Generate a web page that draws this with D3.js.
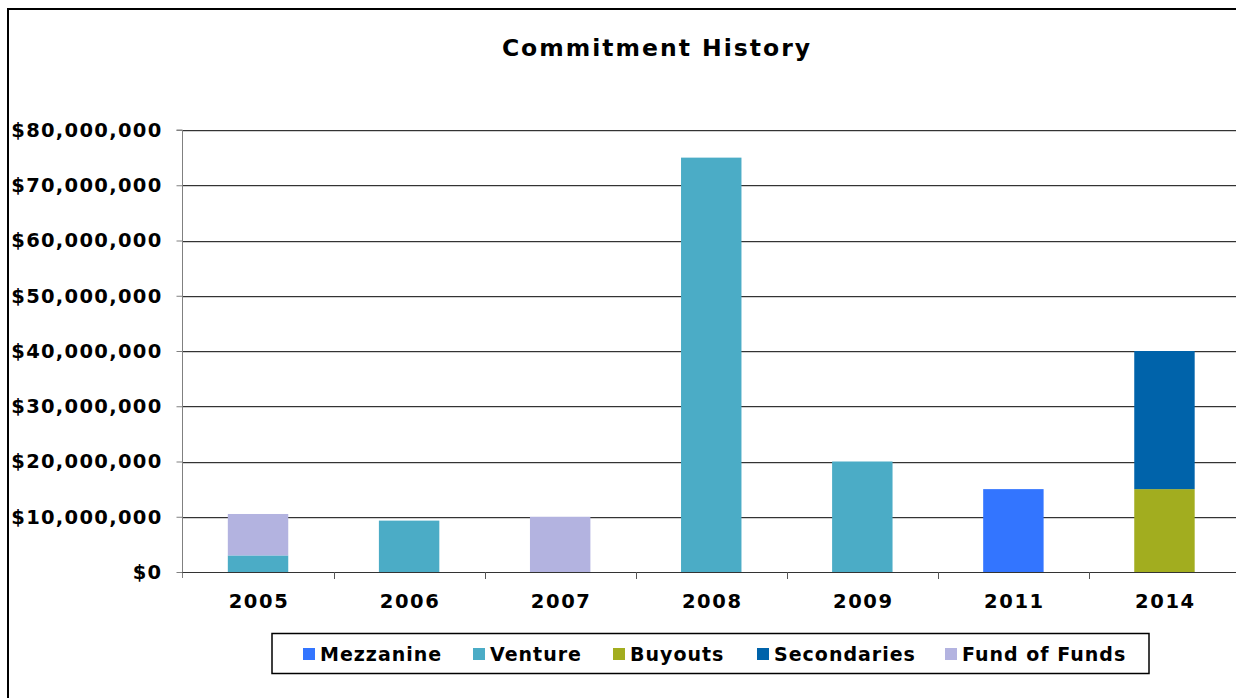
<!DOCTYPE html>
<html>
<head>
<meta charset="utf-8">
<script src="https://cdn.jsdelivr.net/npm/d3@7"></script>
<style>
  body { margin: 0; background: #fff; }
  svg text { font-family: "DejaVu Sans", Verdana, sans-serif; font-weight: bold; fill: #000; }
</style>
</head>
<body>
<svg id="chart" width="1236" height="698"></svg>
<script>
  // Data
  const years = ["2005", "2006", "2007", "2008", "2009", "2011", "2014"];
  const seriesNames = ["Mezzanine", "Venture", "Buyouts", "Secondaries", "Fund of Funds"];
  const seriesColors = ["#3375ff", "#4bacc6", "#a2ad1f", "#0063aa", "#b3b3e0"];

  const mezzanine   = [0, 0, 0, 0, 0, 15000000, 0];
  const venture     = [3000000, 9300000, 0, 75000000, 20000000, 0, 0];
  const buyouts     = [0, 0, 0, 0, 0, 0, 15000000];
  const secondaries = [0, 0, 0, 0, 0, 0, 25000000];
  const fundOfFunds = [7500000, 0, 10000000, 0, 0, 0, 0];

  const yTicks = [0, 10000000, 20000000, 30000000, 40000000, 50000000, 60000000, 70000000, 80000000];

  // stack order bottom -> top
  const stackOrder = ["Mezzanine", "Venture", "Buyouts", "Secondaries", "Fund of Funds"];
  const valuesByName = {
    "Mezzanine": mezzanine,
    "Venture": venture,
    "Buyouts": buyouts,
    "Secondaries": secondaries,
    "Fund of Funds": fundOfFunds
  };

  const rows = years.map((y, i) => {
    const r = { year: y };
    seriesNames.forEach(n => { r[n] = valuesByName[n][i]; });
    return r;
  });

  const svg = d3.select("#chart");
  const margin = { top: 130, left: 182.5, bottom: 572, right: 1240 };

  // outer chart border
  svg.append("rect")
    .attr("x", 8).attr("y", 9)
    .attr("width", 1300).attr("height", 800)
    .attr("fill", "none")
    .attr("stroke", "#000")
    .attr("stroke-width", 2);

  svg.append("text")
    .attr("x", 657).attr("y", 56)
    .attr("text-anchor", "middle")
    .style("font-size", "23.5px")
    .style("letter-spacing", "2px")
    .text("Commitment History");

  const x = d3.scaleBand()
    .domain(years)
    .range([margin.left, margin.right])
    .padding(0);

  const y = d3.scaleLinear()
    .domain([0, 80000000])
    .range([margin.bottom, margin.top]);

  const fmt = v => "$" + d3.format(",")(v);

  // gridlines (dark line with a light shadow under it)
  const grid = svg.append("g");
  yTicks.filter(t => t > 0).forEach(t => {
    grid.append("line")
      .attr("x1", margin.left).attr("x2", margin.right)
      .attr("y1", Math.round(y(t)) + 1.5).attr("y2", Math.round(y(t)) + 1.5)
      .attr("stroke", "#d0d0d0");
    grid.append("line")
      .attr("x1", margin.left).attr("x2", margin.right)
      .attr("y1", Math.round(y(t)) + 0.5).attr("y2", Math.round(y(t)) + 0.5)
      .attr("stroke", "#333");
  });

  // stacked bars
  const stack = d3.stack().keys(stackOrder);
  const stacked = stack(rows);
  const barW = x.bandwidth() * 0.4;

  svg.append("g")
    .selectAll("g")
    .data(stacked)
    .join("g")
    .attr("fill", d => seriesColors[seriesNames.indexOf(d.key)])
    .selectAll("rect")
    .data(d => d.filter(p => p[1] - p[0] > 0))
    .join("rect")
    .attr("x", d => x(d.data.year) + (x.bandwidth() - barW) / 2)
    .attr("y", d => y(d[1]))
    .attr("width", barW)
    .attr("height", d => y(d[0]) - y(d[1]));

  // y axis
  const yAxis = svg.append("g")
    .attr("transform", `translate(${margin.left},0)`)
    .call(d3.axisLeft(y).tickValues(yTicks).tickFormat(fmt).tickSize(6).tickPadding(14));
  yAxis.select(".domain").attr("stroke", "#808080").attr("d", `M-6,${margin.top}H0V${margin.bottom + 6}`);
  yAxis.selectAll(".tick line").attr("stroke", "#808080");
  yAxis.selectAll("text")
    .style("font-size", "19.5px")
    .style("letter-spacing", "1.3px")
    .attr("fill", "#000");

  // x axis
  const xAxisG = svg.append("g")
    .attr("transform", `translate(0,${margin.bottom})`);
  xAxisG.append("line")
    .attr("x1", margin.left).attr("x2", margin.right)
    .attr("y1", 0.5).attr("y2", 0.5)
    .attr("stroke", "#333");
  xAxisG.selectAll("line.tk")
    .data(years.slice(1))
    .join("line")
    .attr("class", "tk")
    .attr("x1", d => Math.round(x(d)) + 0.5).attr("x2", d => Math.round(x(d)) + 0.5)
    .attr("y1", 0).attr("y2", 7)
    .attr("stroke", "#555");
  xAxisG.selectAll("text")
    .data(years)
    .join("text")
    .attr("x", d => x(d) + x.bandwidth() / 2 + 1)
    .attr("y", 36)
    .attr("text-anchor", "middle")
    .style("font-size", "19.5px")
    .style("letter-spacing", "1.6px")
    .text(d => d);

  // legend
  const legend = svg.append("g");
  legend.append("rect")
    .attr("x", 272).attr("y", 633.5)
    .attr("width", 877).attr("height", 40)
    .attr("fill", "#fff")
    .attr("stroke", "#000")
    .attr("stroke-width", 1.5);

  const legendX = [303, 473, 613, 757, 945];
  seriesNames.forEach((n, i) => {
    legend.append("rect")
      .attr("x", legendX[i]).attr("y", 648)
      .attr("width", 12).attr("height", 12)
      .attr("fill", seriesColors[i]);
    legend.append("text")
      .attr("x", legendX[i] + 17).attr("y", 661)
      .style("font-size", "19px")
      .style("letter-spacing", "1px")
      .text(n);
  });
</script>
</body>
</html>
